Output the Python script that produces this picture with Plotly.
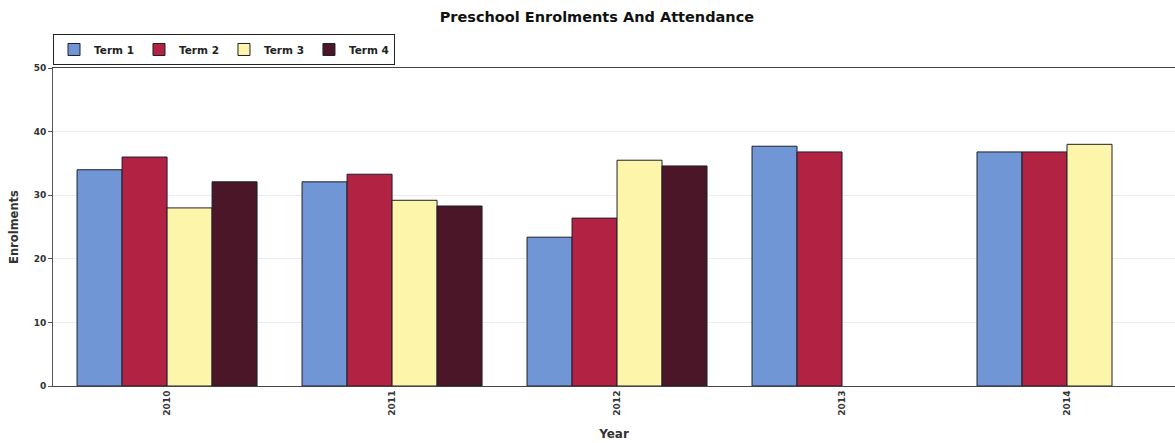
import plotly.graph_objects as go

years = ["2010", "2011", "2012", "2013", "2014"]
term1 = [34.0, 32.1, 23.4, 37.7, 36.8]
term2 = [36.0, 33.3, 26.4, 36.8, 36.8]
term3 = [28.0, 29.2, 35.5, None, 38.0]
term4 = [32.1, 28.3, 34.6, None, None]

series = [
    ("Term 1", term1, "#7196d6"),
    ("Term 2", term2, "#b22243"),
    ("Term 3", term3, "#fdf6aa"),
    ("Term 4", term4, "#4b1628"),
]

font_family = "DejaVu Sans, Liberation Sans, Arial, sans-serif"

fig = go.Figure()
for name, vals, color in series:
    fig.add_trace(go.Bar(
        x=years, y=vals, name=f"<b>{name}</b>",
        marker=dict(color=color, line=dict(color="#1e1e2a", width=1)),
    ))

fig.update_layout(
    width=1175, height=443,
    margin=dict(l=53, r=0, t=68, b=57),
    paper_bgcolor="white", plot_bgcolor="white",
    barmode="group", bargap=0.2, bargroupgap=0,
    font=dict(family=font_family, size=10, color="#333333"),
    title=dict(
        text="<b>Preschool Enrolments And Attendance</b>",
        x=0.508, xanchor="center", y=0.962, yanchor="middle",
        font=dict(size=14.5, color="#111111", family=font_family),
    ),
    legend=dict(
        orientation="h", x=0.0, xanchor="left", y=1.107, yanchor="top",
        bordercolor="#222222", borderwidth=1, bgcolor="white",
        font=dict(size=10.5, color="#222222", family=font_family),
        itemwidth=30, tracegroupgap=0,
    ),
    showlegend=True,
)

fig.update_xaxes(
    range=[-0.507, 4.48],
    showline=True, linecolor="#444444", linewidth=1, mirror=True,
    showgrid=False, ticks="",
    tickangle=-90,
    tickprefix="<b>", ticksuffix="</b>",
    tickfont=dict(size=9, color="#333333", family=font_family),
    title=dict(text="<b>Year</b>", standoff=14,
               font=dict(size=12, color="#333333", family=font_family)),
)

fig.update_yaxes(
    range=[0, 50], dtick=10,
    showline=True, linecolor="#555555", linewidth=1,
    showgrid=True, gridcolor="#ececec", gridwidth=1,
    zeroline=False,
    ticks="outside", ticklen=4, tickcolor="#555555",
    tickfont=dict(size=9, color="#333333", family=font_family),
    tickprefix="<b>", ticksuffix="</b>",
    title=dict(text="<b>Enrolments</b>", standoff=12,
               font=dict(size=11.5, color="#333333", family=font_family)),
)

fig.write_html("out.html")
